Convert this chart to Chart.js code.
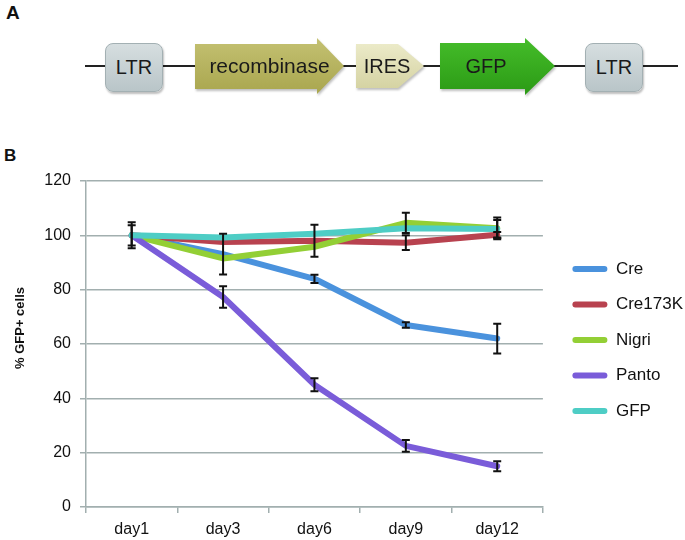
<!DOCTYPE html>
<html>
<head>
<meta charset="utf-8">
<script src="https://cdn.jsdelivr.net/npm/chart.js@4"></script>
<style>
  body { margin: 0; background: #fff; font-family: "Liberation Sans", Arial, sans-serif; }
  #page { position: relative; width: 685px; height: 540px; overflow: hidden; }
  .panel { position: absolute; font-weight: bold; color: #111; }
  .wire { position: absolute; left: 85px; top: 65px; width: 593px; height: 2px; background: #222; }
  .part { position: absolute; display: flex; align-items: center; justify-content: center;
          font-size: 20px; color: #1a1a1a; box-sizing: border-box; }
  .ltr { top: 43px; width: 58px; height: 49px; border-radius: 8px;
         background: linear-gradient(#d6dee0, #b9c5c8); border: 1px solid #a3b0b3;
         box-shadow: 1px 2px 2px rgba(0,0,0,0.25); }
  .arrow { filter: drop-shadow(1px 2px 1px rgba(0,0,0,0.25)); }
  #canvasWrap { position: absolute; left: 0; top: 140px; width: 685px; height: 400px; }
</style>
</head>
<body>
<div id="page">
  <div class="panel" style="left:6px; top:2px; font-size:19px;">A</div>
  <div class="wire"></div>
  <div class="part ltr" style="left:105px;">LTR</div>
  <div class="arrow" style="position:absolute; left:195px; top:38px; width:149px; height:56px;">
    <div class="part" style="left:0; top:0; width:149px; height:56px; font-size:21px;
      background: linear-gradient(#c4c172, #a9a64e);
      clip-path: polygon(0 6px, 122px 6px, 122px 0, 149px 28px, 122px 56px, 122px 51px, 0 51px);">recombinase</div>
  </div>
  <div class="arrow" style="position:absolute; left:356px; top:44px; width:68px; height:44px;">
    <div class="part" style="left:0; top:0; width:68px; height:44px; padding-right:6px;
      background: linear-gradient(#ebeac8, #d5d3a3);
      clip-path: polygon(0 0, 42px 0, 68px 22px, 42px 44px, 0 44px);">IRES</div>
  </div>
  <div class="arrow" style="position:absolute; left:440px; top:38px; width:115px; height:57px;">
    <div class="part" style="left:0; top:0; width:115px; height:57px; padding-right:23px;
      background: linear-gradient(#45bd2a, #2b9a15);
      clip-path: polygon(0 5px, 85px 5px, 85px 0, 115px 28px, 85px 57px, 85px 51px, 0 51px);">GFP</div>
  </div>
  <div class="part ltr" style="left:585px;">LTR</div>

  <div class="panel" style="left:4px; top:146px; font-size:17px;">B</div>
  <div id="canvasWrap"><canvas id="chart" width="685" height="400"></canvas></div>
</div>
<script>
const days = ['day1', 'day3', 'day6', 'day9', 'day12'];
const seriesNames = ['Cre', 'Cre173K', 'Nigri', 'Panto', 'GFP'];
const seriesColors = ['#4a92dd', '#b8424f', '#93cf35', '#7a5cd9', '#4ecdc5'];

const creValues = [100, 93.1, 84, 67, 62];
const creErrors = [4.8, 7.5, 1.5, 1, 5.5];
const cre173kValues = [100, 97.5, 98, 97.3, 100.2];
const cre173kErrors = [0, 0, 5.9, 2.7, 1];
const nigriValues = [100, 91.5, 95.8, 104.6, 102.6];
const nigriErrors = [3.7, 0, 0, 3.7, 4];
const pantoValues = [100, 77.3, 45, 22.5, 15];
const pantoErrors = [0, 4, 2.4, 2.2, 1.8];
const gfpValues = [100, 99.2, 100.6, 102.6, 102.3];
const gfpErrors = [0, 0, 0, 0, 3.3];

const yTicks = [0, 20, 40, 60, 80, 100, 120];
const yTitle = '% GFP+ cells';

const allValues = [creValues, cre173kValues, nigriValues, pantoValues, gfpValues];
const allErrors = [creErrors, cre173kErrors, nigriErrors, pantoErrors, gfpErrors];

const FONT = '"Liberation Sans", Arial, sans-serif';
const GRID = '#a2afaf';

// error bars drawn through the scales, on top of the lines
const errorBars = {
    id: 'errorBars',
    afterDatasetsDraw(chart) {
        const ctx = chart.ctx;
        const x = chart.scales.x;
        const y = chart.scales.y;
        ctx.save();
        ctx.strokeStyle = '#111';
        ctx.lineWidth = 2;
        chart.data.datasets.forEach(ds => {
            ds.data.forEach((v, j) => {
                const e = ds.errors[j];
                if (!e) return;
                const px = x.getPixelForValue(j);
                const top = y.getPixelForValue(v + e);
                const bot = y.getPixelForValue(v - e);
                ctx.beginPath();
                ctx.moveTo(px, top);
                ctx.lineTo(px, bot);
                ctx.moveTo(px - 4, top);
                ctx.lineTo(px + 4, top);
                ctx.moveTo(px - 4, bot);
                ctx.lineTo(px + 4, bot);
                ctx.stroke();
            });
        });
        ctx.restore();
    }
};

// y title sits a little above the middle of the axis, like the original
const axisTitle = {
    id: 'axisTitle',
    afterDraw(chart) {
        const ctx = chart.ctx;
        ctx.save();
        ctx.translate(20, 188);
        ctx.rotate(-Math.PI / 2);
        ctx.font = 'bold 13px ' + FONT;
        ctx.fillStyle = '#111';
        ctx.textAlign = 'center';
        ctx.textBaseline = 'middle';
        ctx.fillText(yTitle, 0, 0);
        ctx.restore();
    }
};

// nudge the legend column away from the plot
const legendShift = {
    id: 'legendShift',
    afterLayout(chart) {
        chart.legend.left += 11;
        chart.legend.right += 11;
        chart.legend.top -= 4;
        chart.legend.bottom -= 4;
    }
};

const datasets = seriesNames.map((name, i) => ({
    label: name,
    data: allValues[i],
    errors: allErrors[i],
    borderColor: seriesColors[i],
    backgroundColor: seriesColors[i],
    borderWidth: 6,
    borderJoinStyle: 'round',
    borderCapStyle: 'round',
    pointRadius: 0,
    tension: 0,
    order: seriesNames.length - i
}));

new Chart(document.getElementById('chart'), {
    type: 'line',
    data: { labels: days, datasets: datasets },
    options: {
        responsive: false,
        animation: false,
        devicePixelRatio: 1,
        layout: { padding: { top: 41, left: 0, right: 3, bottom: 0 } },
        plugins: {
            tooltip: { enabled: false },
            legend: {
                position: 'right',
                fullSize: false,
                maxWidth: 142,
                labels: {
                    font: { family: FONT, size: 17 },
                    color: '#111',
                    boxWidth: 35,
                    boxHeight: 6,
                    padding: 18.5,
                    useBorderRadius: true,
                    borderRadius: 3,
                    sort: (a, b) => a.datasetIndex - b.datasetIndex,
                    generateLabels(chart) {
                        return Chart.defaults.plugins.legend.labels.generateLabels(chart)
                            .map(item => Object.assign(item, { lineWidth: 0 }));
                    }
                }
            }
        },
        scales: {
            x: {
                offset: true,
                afterFit(scale) { scale.height = 33; },
                grid: { display: true, drawOnChartArea: false, drawTicks: true, tickLength: 6, color: GRID, lineWidth: 1.5, offset: true },
                border: { color: GRID, width: 1.5 },
                ticks: { font: { family: FONT, size: 16 }, color: '#111', padding: 7 }
            },
            y: {
                min: 0,
                max: 120,
                afterFit(scale) { scale.width = 86; },
                afterBuildTicks(scale) { scale.ticks = yTicks.map(v => ({ value: v })); },
                grid: { color: GRID, lineWidth: 1.5, tickLength: 6 },
                border: { color: GRID, width: 1.5 },
                ticks: { font: { family: FONT, size: 16 }, color: '#111', padding: 9 }
            }
        }
    },
    plugins: [errorBars, axisTitle, legendShift]
});
</script>
</body>
</html>
